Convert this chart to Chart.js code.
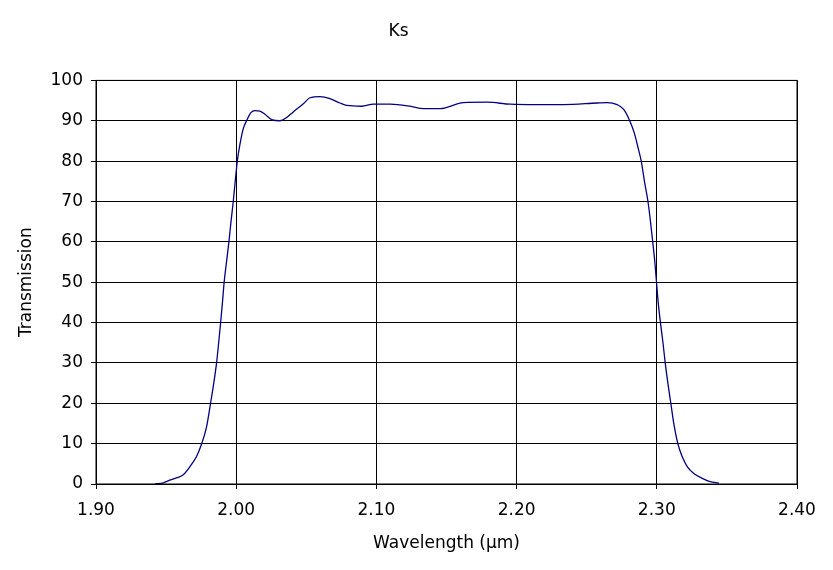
<!DOCTYPE html>
<html>
<head>
<meta charset="utf-8">
<script src="https://cdn.jsdelivr.net/npm/chart.js@4"></script>
<style>
  html, body { margin: 0; padding: 0; background: #fff; }
  #wrap { width: 833px; height: 570px; }
</style>
</head>
<body>
<div id="wrap"><canvas id="ksChart" width="833" height="570"></canvas></div>
<script>
// Ks filter transmission curve
const wavelength = [
    1.9420, 1.9480, 1.9530, 1.9580, 1.9620, 1.9670, 1.9717, 1.9753, 1.9789, 1.9817,
    1.9840, 1.9860, 1.9875, 1.9889, 1.9902, 1.9914, 1.9931, 1.9948, 1.9963, 1.9979,
    1.9993, 2.0008, 2.0026, 2.0050, 2.0074, 2.0105, 2.0134, 2.0169, 2.0205, 2.0253,
    2.0312, 2.0360, 2.0407, 2.0479, 2.0526, 2.0598, 2.0669, 2.0740, 2.0789, 2.0896,
    2.0979, 2.1100, 2.1240, 2.1336, 2.1455, 2.1621, 2.1789, 2.1955, 2.2146, 2.2336,
    2.2574, 2.2646, 2.2717, 2.2764, 2.2807, 2.2841, 2.2865, 2.2889, 2.2912, 2.2937,
    2.2955, 2.2971, 2.2986, 2.2998, 2.3010, 2.3026, 2.3044, 2.3060, 2.3079, 2.3100,
    2.3121, 2.3150, 2.3181, 2.3217, 2.3264, 2.3336, 2.3380, 2.3443
];
const transmission = [
    0.0, 0.3, 1.0, 1.6, 2.2, 4.3, 6.8, 9.9, 14.2, 20.0,
    25.0, 30.0, 35.0, 40.0, 45.0, 50.0, 55.0, 60.0, 65.0, 70.0,
    75.0, 80.0, 84.0, 88.0, 90.0, 92.0, 92.5, 92.4, 91.6, 90.3,
    90.0, 90.8, 92.2, 94.2, 95.7, 96.0, 95.5, 94.4, 93.8, 93.6,
    94.1, 94.1, 93.6, 93.0, 93.0, 94.5, 94.6, 94.1, 94.0, 94.0,
    94.4, 94.5, 94.0, 92.8, 90.0, 86.8, 83.5, 80.0, 75.0, 70.0,
    65.0, 60.0, 55.0, 50.0, 45.0, 40.0, 35.0, 30.0, 25.0, 20.0,
    15.0, 10.0, 6.8, 4.3, 2.6, 1.2, 0.6, 0.2
];
const xTicks = [1.90, 2.00, 2.10, 2.20, 2.30, 2.40];
const yTicks = [0, 10, 20, 30, 40, 50, 60, 70, 80, 90, 100];

const points = wavelength.map((w, i) => ({ x: w, y: transmission[i] }));
const font = { family: "'DejaVu Sans', Verdana, sans-serif", size: 17, weight: "normal" };

const ctx = document.getElementById("ksChart").getContext("2d");

new Chart(ctx, {
    type: "line",
    data: {
        datasets: [{
            label: "Ks",
            data: points,
            borderColor: "#000080",
            borderWidth: 1.3,
            pointRadius: 0,
            fill: false,
            cubicInterpolationMode: "monotone"
        }]
    },
    options: {
        responsive: false,
        animation: false,
        layout: { padding: { left: 0, right: 36, top: 0, bottom: 0 } },
        plugins: {
            legend: { display: false },
            tooltip: { enabled: false },
            title: {
                display: true,
                text: "Ks",
                color: "#000",
                font: font,
                padding: { top: 21, bottom: 39 }
            }
        },
        scales: {
            x: {
                type: "linear",
                min: xTicks[0],
                max: xTicks[xTicks.length - 1],
                afterBuildTicks: axis => { axis.ticks = xTicks.map(v => ({ value: v })); },
                afterFit: axis => { axis.height = 86; },
                ticks: {
                    color: "#000",
                    font: font,
                    padding: 11,
                    maxRotation: 0,
                    callback: v => v.toFixed(2)
                },
                grid: { color: "#000", lineWidth: 1, tickLength: 5 },
                border: { color: "#000", width: 1 },
                title: {
                    display: true,
                    text: "Wavelength (µm)",
                    color: "#000",
                    font: font,
                    padding: { top: 6, bottom: 16 }
                }
            },
            y: {
                min: 0,
                max: 100,
                afterBuildTicks: axis => { axis.ticks = yTicks.map(v => ({ value: v })); },
                afterFit: axis => { axis.width = 96; },
                ticks: { color: "#000", font: font, padding: 8 },
                grid: { color: "#000", lineWidth: 1, tickLength: 5 },
                border: { color: "#000", width: 1 },
                title: {
                    display: true,
                    text: "Transmission",
                    color: "#000",
                    font: font,
                    padding: { top: 16, bottom: 14 }
                }
            }
        }
    },
    plugins: [{
        // right and top frame lines of the plot area
        id: "frame",
        afterDraw(chart) {
            const a = chart.chartArea, c = chart.ctx;
            c.save();
            c.strokeStyle = "#000";
            c.lineWidth = 1;
            c.strokeRect(a.left, a.top, a.right - a.left, a.bottom - a.top);
            c.restore();
        }
    }]
});
</script>
</body>
</html>
